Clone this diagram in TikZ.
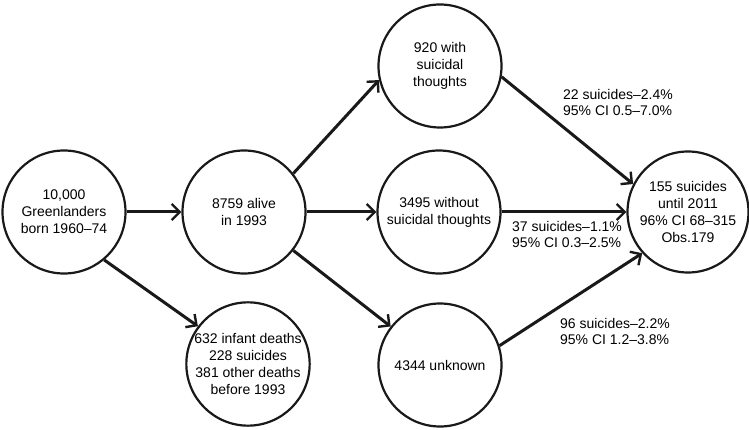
\documentclass[tikz,border=0pt]{standalone}
\usepackage{fontspec}
\setmainfont{Liberation Sans}
\usetikzlibrary{arrows.meta}
\begin{document}
\begin{tikzpicture}[x=1pt,y=-1pt,
  circ/.style={circle,draw=black!90,line width=2.2pt,minimum size=123pt,inner sep=0pt,align=center,font=\fontsize{14}{17}\selectfont},
  conn/.style={line width=3pt,draw=black!90,-{Straight Barb[length=8pt,width=16pt,line width=2.4pt]}},
  lbl/.style={align=left,font=\fontsize{14}{16}\selectfont,inner sep=0pt}]
\useasboundingbox (0,0) rectangle (749,430);
\node[circ] (a) at (64,212) {10,000\\Greenlanders\\born 1960–74};
\node[circ] (b) at (244,212) {8759 alive\\in 1993};
\node[circ] (c) at (440,66) {920 with\\suicidal\\thoughts};
\node[circ] (d) at (439,212) {3495 without\\suicidal thoughts};
\node[circ] (e) at (440,365) {4344 unknown};
\node[circ] (f) at (248,364) {632 infant deaths\\228 suicides\\381 other deaths\\before 1993};
\node[circ,minimum size=121pt] (g) at (688,212) {155 suicides\\until 2011\\96\% CI 68–315\\Obs.179};
\draw[conn] (a) -- (b);
\draw[conn] (b.38) -- (c.193);
\draw[conn] (b) -- (d);
\draw[conn] (b) -- (e);
\draw[conn] (a.-50) -- (f.143);
\draw[conn] (c.-10) -- (g.153);
\draw[conn] (d) -- (g);
\draw[conn] (e.18) -- (g.222);
\node[lbl] (l1) at (618,102) {22 suicides–2.4\%\\95\% CI 0.5–7.0\%};
\node[lbl,anchor=west] (l2) at (512,234) {37 suicides–1.1\%\\95\% CI 0.3–2.5\%};
\node[lbl] (l3) at (615,331) {96 suicides–2.2\%\\95\% CI 1.2–3.8\%};
\end{tikzpicture}
\end{document}
